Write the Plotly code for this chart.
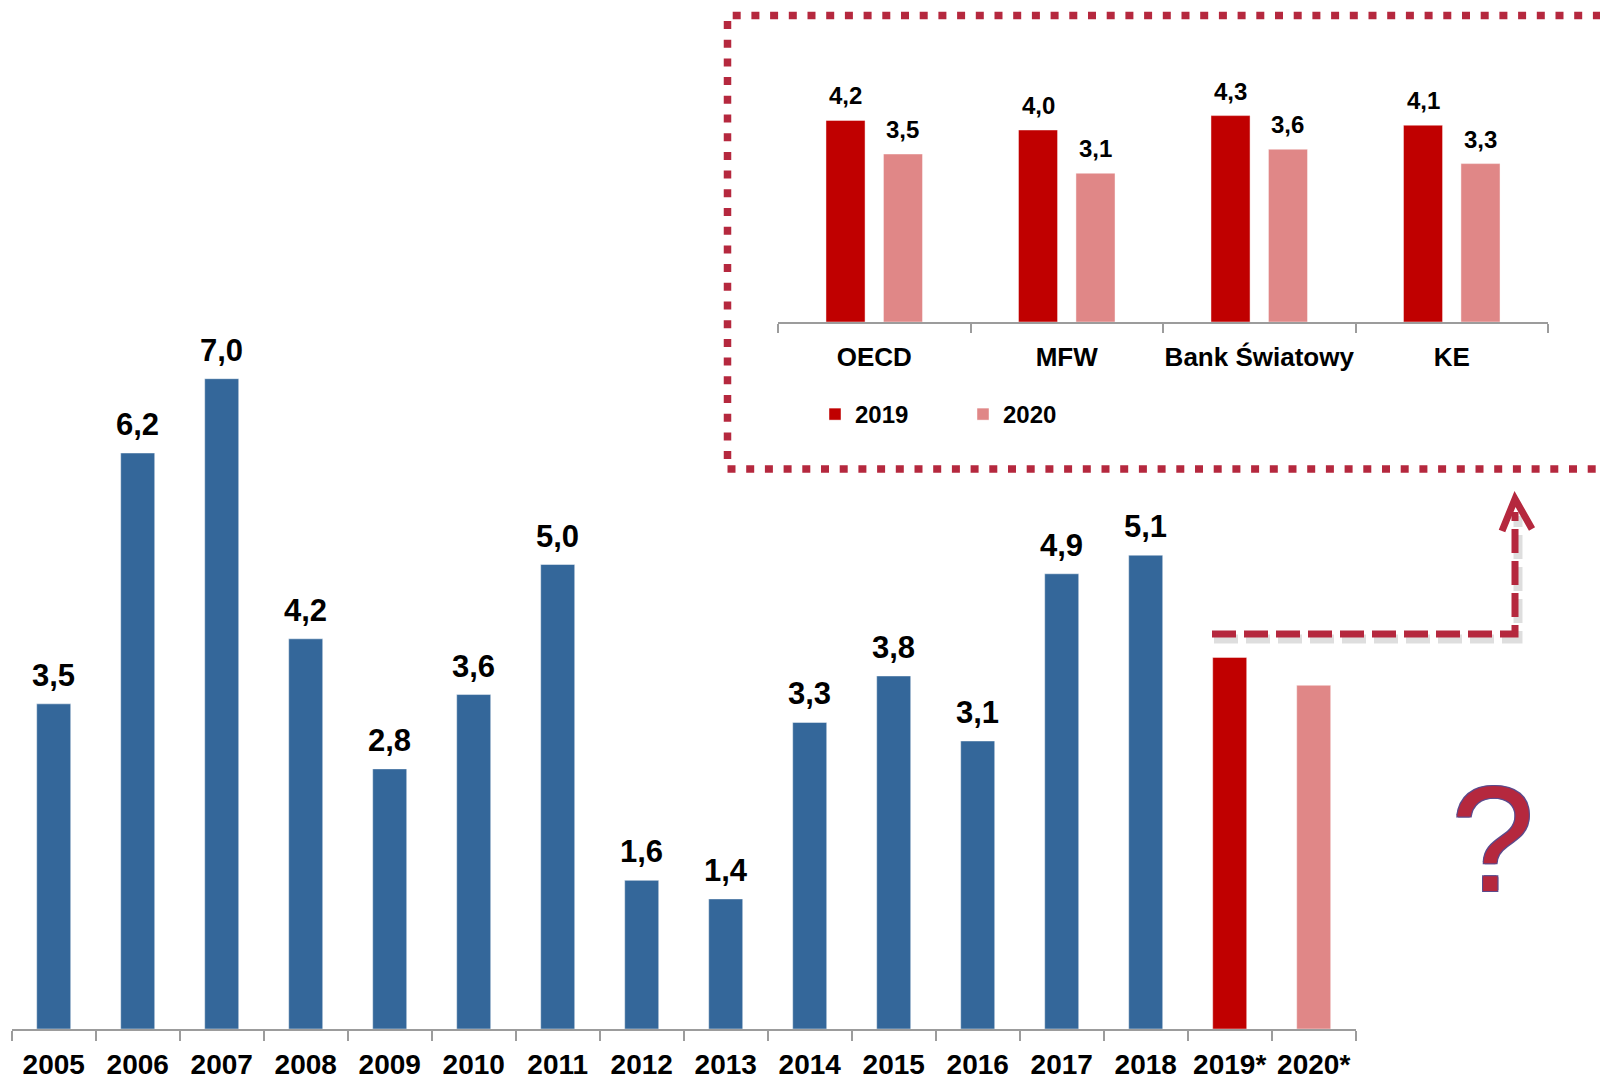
import plotly.graph_objects as go

# ---------------- data ----------------
years = ["2005", "2006", "2007", "2008", "2009", "2010", "2011", "2012",
         "2013", "2014", "2015", "2016", "2017", "2018", "2019*", "2020*"]
gdp_growth = [3.5, 6.2, 7.0, 4.2, 2.8, 3.6, 5.0, 1.6,
              1.4, 3.3, 3.8, 3.1, 4.9, 5.1, 4.0, 3.7]

institutions = ["OECD", "MFW", "Bank Światowy", "KE"]
forecast_2019 = [4.2, 4.0, 4.3, 4.1]
forecast_2020 = [3.5, 3.1, 3.6, 3.3]
series_names = ["2019", "2020"]

# ---------------- styles ----------------
W, H = 1600, 1083
FONT = "Liberation Sans, Arial, sans-serif"
BLUE = "#34679A"
RED = "#C00000"
PINK = "#E08787"
CRIMSON = "#B5283E"
AXIS_GREY = "#9C9C9C"


def px_x(p):
    return p / W


def px_y(p):
    return 1 - p / H


def fmt(v):
    return f"{v:.1f}".replace(".", ",")


main_colors = []
for y in years:
    if y == "2019*":
        main_colors.append(RED)
    elif y == "2020*":
        main_colors.append(PINK)
    else:
        main_colors.append(BLUE)

fig = go.Figure()

# main chart
fig.add_trace(go.Bar(
    x=years, y=gdp_growth, xaxis="x", yaxis="y",
    marker=dict(color=main_colors, line=dict(color="rgba(255,255,255,0.45)", width=1)),
    width=0.405, showlegend=False, hoverinfo="x+y",
))

# inset chart
fig.add_trace(go.Bar(
    x=institutions, y=forecast_2019, name=series_names[0], xaxis="x2", yaxis="y2",
    marker=dict(color=RED, line=dict(color="rgba(255,255,255,0.45)", width=1)),
))
fig.add_trace(go.Bar(
    x=institutions, y=forecast_2020, name=series_names[1], xaxis="x2", yaxis="y2",
    marker=dict(color=PINK, line=dict(color="rgba(255,255,255,0.45)", width=1)),
))

# geometry
MAIN_LEFT, MAIN_RIGHT = 11.7, 1355.7
MAIN_BASE, MAIN_TOP = 1029, 0
MAIN_PX_PER_UNIT = 92.9
INS_LEFT, INS_RIGHT = 778, 1548
INS_BASE, INS_TOP = 322, 22
INS_PX_PER_UNIT = 48.0
INS_BARGAP, INS_GROUPGAP = 0.403, 0.32

annotations = []
# value labels main chart (only for realised years)
for i, (y, v) in enumerate(zip(years, gdp_growth)):
    if y.endswith("*"):
        continue
    annotations.append(dict(
        x=i, y=v, xref="x", yref="y", text=fmt(v), showarrow=False,
        yanchor="bottom", yshift=9,
        font=dict(family=FONT, size=31, color="black", weight="bold"),
    ))

# value labels inset
cat_px = (INS_RIGHT - INS_LEFT) / len(institutions)
slot_px = cat_px * (1 - INS_BARGAP) / 2
for vals, sign in ((forecast_2019, -1), (forecast_2020, 1)):
    for i, v in enumerate(vals):
        annotations.append(dict(
            x=i, y=v, xref="x2", yref="y2", text=fmt(v), showarrow=False,
            yanchor="bottom", yshift=9, xshift=sign * slot_px / 2,
            font=dict(family=FONT, size=24, color="black", weight="bold"),
        ))

# question mark
annotations.append(dict(
    x=px_x(1492), y=px_y(839), xref="paper", yref="paper", text="?",
    showarrow=False, xanchor="center", yanchor="middle",
    font=dict(family=FONT, size=150, color=CRIMSON, weight="normal",
              shadow="1px 1px 0 #5B4A8C, -1px -1px 0 #5B4A8C, 1px -1px 0 #5B4A8C, -1px 1px 0 #5B4A8C"),
))

shapes = []
# dotted frame around the inset
shapes.append(dict(
    type="rect", xref="paper", yref="paper",
    x0=px_x(727.5), x1=px_x(1620), y0=px_y(469), y1=px_y(15.5),
    line=dict(color=CRIMSON, width=7.5, dash="8px,10.7px"),
    fillcolor="rgba(0,0,0,0)", layer="above",
))

# dashed arrow (shadow + line)
arrow_path = "M {:.5f},{:.5f} H {:.5f} V {:.5f}".format(px_x(1212), px_y(634), px_x(1515), px_y(512))
head_path = "M {:.5f},{:.5f} L {:.5f},{:.5f} L {:.5f},{:.5f}".format(
    px_x(1502), px_y(531), px_x(1515), px_y(499), px_x(1532), px_y(529))
shadow_arrow = "M {:.5f},{:.5f} H {:.5f} V {:.5f}".format(px_x(1214), px_y(639), px_x(1518), px_y(516))
shapes.append(dict(type="path", xref="paper", yref="paper", path=shadow_arrow,
                   line=dict(color="rgba(0,0,0,0.13)", width=9, dash="24px,8px")))
shapes.append(dict(type="path", xref="paper", yref="paper", path=arrow_path,
                   line=dict(color=CRIMSON, width=7, dash="24px,8px")))
shapes.append(dict(type="path", xref="paper", yref="paper", path=head_path,
                   line=dict(color=CRIMSON, width=7)))

axis_common = dict(
    type="category", showgrid=False, zeroline=False, showline=True,
    linecolor=AXIS_GREY, linewidth=2, ticks="outside", tickson="boundaries",
    tickcolor=AXIS_GREY, tickwidth=2, fixedrange=True, tickangle=0,
)

fig.update_layout(
    width=W, height=H,
    margin=dict(l=0, r=0, t=0, b=0, autoexpand=False),
    paper_bgcolor="white", plot_bgcolor="rgba(0,0,0,0)",
    barmode="group", bargap=INS_BARGAP, bargroupgap=INS_GROUPGAP,
    font=dict(family=FONT, color="black"),
    xaxis=dict(
        **axis_common, domain=[px_x(MAIN_LEFT), px_x(MAIN_RIGHT)],
        range=[-0.5, len(years) - 0.5], anchor="y", ticklen=10, ticklabelstandoff=9,
        tickfont=dict(family=FONT, size=28, color="black", weight="bold"),
    ),
    yaxis=dict(
        visible=False, domain=[px_y(MAIN_BASE), px_y(MAIN_TOP)],
        range=[0, (MAIN_BASE - MAIN_TOP) / MAIN_PX_PER_UNIT], fixedrange=True,
    ),
    xaxis2=dict(
        **axis_common, domain=[px_x(INS_LEFT), px_x(INS_RIGHT)],
        range=[-0.5, len(institutions) - 0.5], anchor="y2", ticklen=9, ticklabelstandoff=11,
        tickfont=dict(family=FONT, size=26, color="black", weight="bold"),
    ),
    yaxis2=dict(
        visible=False, domain=[px_y(INS_BASE), px_y(INS_TOP)],
        range=[0, (INS_BASE - INS_TOP) / INS_PX_PER_UNIT], fixedrange=True, anchor="x2",
    ),
    legend=dict(
        orientation="h", x=px_x(815), y=px_y(414.5), xanchor="left", yanchor="middle",
        font=dict(family=FONT, size=24, color="black", weight="bold"),
        bgcolor="rgba(0,0,0,0)", entrywidth=103, entrywidthmode="pixels",
        itemclick=False, itemdoubleclick=False,
    ),
    annotations=annotations,
    shapes=shapes,
)

fig.write_html("out.html", config={"displayModeBar": False},
               post_script="document.body.style.margin='0';")
